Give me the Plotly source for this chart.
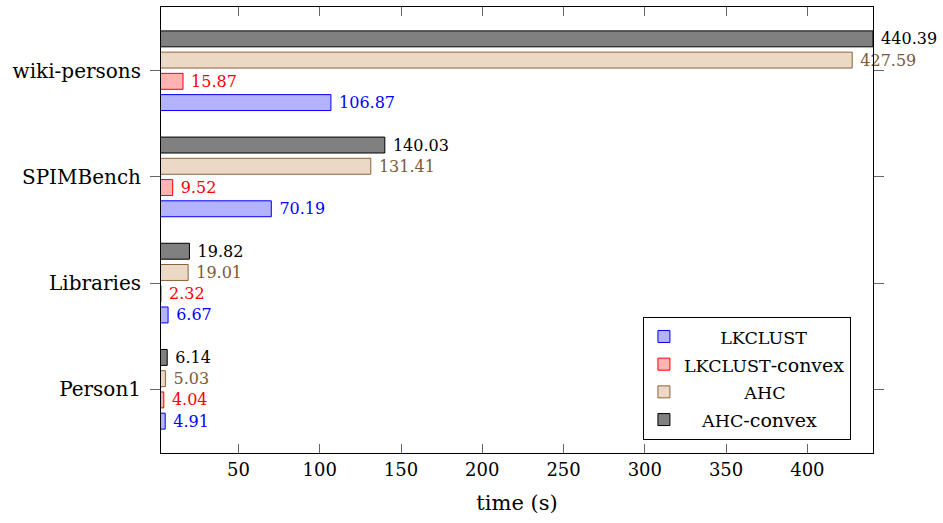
import plotly.graph_objects as go

categories = ["Person1", "Libraries", "SPIMBench", "wiki-persons"]
lkclust = [4.91, 6.67, 70.19, 106.87]
lkclust_convex = [4.04, 2.32, 9.52, 15.87]
ahc = [5.03, 19.01, 131.41, 427.59]
ahc_convex = [6.14, 19.82, 140.03, 440.39]
x_ticks = [50, 100, 150, 200, 250, 300, 350, 400]

FONT = "DejaVu Serif"
NB = "\u00a0"
SC = "<span style='font-size:17.5px'>{}</span>"
series = [
    (NB * 6 + SC.format("LKCLUST"), lkclust, "rgb(179,179,255)", "#0000ff", "#0000ff", -0.375),
    (SC.format("LKCLUST") + "-convex", lkclust_convex, "rgb(255,179,179)", "#ff0000", "#ff0000", -0.175),
    (NB * 10 + SC.format("AHC"), ahc, "rgb(235,217,198)", "#8c6239", "#7a5a3a", 0.025),
    (NB * 3 + SC.format("AHC") + "-convex", ahc_convex, "rgb(128,128,128)", "#000000", "#000000", 0.225),
]

all_vals = lkclust + lkclust_convex + ahc + ahc_convex
xmin, xmax = min(all_vals), max(all_vals)

fig = go.Figure()
for name, vals, fill, line, tcol, off in series:
    fig.add_trace(go.Bar(
        y=categories, x=vals, orientation="h", name=name,
        marker=dict(color=fill, line=dict(color=line, width=1)),
        width=0.15, offset=off,
        text=[NB + f"{v:.2f}" for v in vals], textposition="outside",
        textfont=dict(family=FONT, size=16, color=tcol),
        constraintext="none", cliponaxis=False,
    ))

fig.update_layout(
    width=943, height=523,
    margin=dict(l=161, r=70, t=7, b=70),
    plot_bgcolor="white", paper_bgcolor="white",
    barmode="overlay",
    font=dict(family=FONT, size=19, color="black"),
    showlegend=True,
    legend=dict(
        x=0.969, y=0.03, xanchor="right", yanchor="bottom",
        bgcolor="white", bordercolor="black", borderwidth=1,
        font=dict(family=FONT, size=19), traceorder="normal",
    ),
    xaxis=dict(
        range=[xmin, xmax], tickvals=x_ticks, ticktext=[str(t) for t in x_ticks],
        ticks="inside", ticklen=9, tickcolor="#666", tickwidth=1, mirror="allticks",
        showline=True, linecolor="black", linewidth=1, showgrid=False, zeroline=False,
        title=dict(text="time (s)", font=dict(family=FONT, size=21), standoff=16),
        tickfont=dict(family=FONT, size=18), layer="above traces",
    ),
    yaxis=dict(
        type="category", categoryorder="array", categoryarray=categories,
        range=[-0.6, 3.6],
        ticks="outside", ticklen=10, tickcolor="#666", mirror="allticks",
        showline=True, linecolor="black", linewidth=1, showgrid=False, zeroline=False,
        tickfont=dict(family=FONT, size=20), ticklabelstandoff=5,
    ),
)

fig.write_html("out.html", config={"displayModeBar": False},
               post_script="document.body.style.margin='0';")
